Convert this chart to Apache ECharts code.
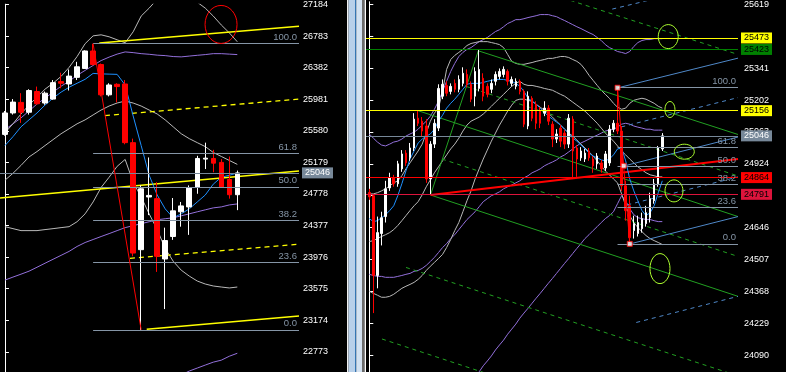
<!DOCTYPE html>
<html><head><meta charset="utf-8">
<script src="https://cdn.jsdelivr.net/npm/echarts@6/dist/echarts.min.js"></script>
<style>html,body{margin:0;padding:0;background:#000;}#c{width:786px;height:372px;}</style>
</head><body><div id="c"></div>
<script>
// ---------------- DATA ----------------
// Left panel (30 bars): [open, close, low, high]
const leftCandles = [
[25535,25807,25518,25832],[25807,25945,25786,25983],[25941,25816,25681,26058],[25816,26092,25786,26108],
[26079,25924,25911,26142],[25933,26058,25911,26079],[25983,26192,25974,26225],[26205,26184,26121,26318],
[26175,26275,26092,26359],[26259,26393,26225,26456],[26372,26594,26372,26602],[26594,26422,26410,26686],
[26422,26037,26017,26435],[26037,26162,26017,26184],[26171,26142,25941,26184],[26175,25430,25409,26225],
[25430,24028,23987,25481],[24071,24844,23054,24887],[24740,24760,24510,25242],[24719,23987,23789,24928],
[23953,24187,23317,24351],[24238,24564,24196,24727],[24552,24627,24363,24677],[24614,24853,24259,24887],
[24865,25229,24781,25263],[25221,25233,25095,25430],[25229,25170,25054,25339],[25179,24865,24865,25221],
[24962,24769,24719,25254],[24769,25046,24573,25075]
];
const leftMA = [25393,25506,25631,25719,25807,25907,25995,26071,26133,26184,26234,26309,26303,26300,26297,26162,25769,25393,25016,24765,24589,24476,24526,24589,24677,24765,24903,24991,25016,25045];
const leftBBUpper = [25556,25669,25794,25907,26008,26109,26184,26271,26385,26523,26686,26786,26799,26774,26736,26698,26837,27037,27138,27251,27376,27439,27376,27288,27213,27138,27037,26924,26824,26711];
const leftBBMid = [24953,25041,25141,25248,25317,25393,25468,25543,25606,25669,25719,25782,25844,25895,25933,25958,25933,25895,25844,25794,25719,25631,25543,25481,25430,25380,25305,25255,25204,25154];
const leftBBLower = [24363,24338,24313,24313,24313,24326,24338,24351,24363,24426,24526,24677,24861,24991,25129,25217,24928,24740,24526,24326,24087,23924,23811,23736,23673,23635,23610,23597,23585,23597];
const leftBB2Upper = [25594,25669,25744,25832,25920,25995,26071,26146,26209,26284,26347,26410,26472,26516,26554,26582,26573,26560,26552,26541,26535,26523,26519,26529,26539,26548,26560,26560,26554,26548];
const leftBB2Mid = [23685,23723,23760,23798,23848,23899,23949,23999,24049,24112,24162,24200,24238,24275,24313,24351,24376,24401,24426,24451,24464,24476,24501,24526,24552,24577,24602,24614,24639,24652];
const leftBB2Lower = [21777,21777,21777,21764,21777,21802,21827,21852,21890,21940,21978,21990,22003,22041,22078,22116,22179,22241,22304,22367,22392,22430,22480,22530,22568,22606,22643,22668,22718,22756];
const leftTicks = [22773,23174,23575,23976,24377,24778,25179,25580,25981,26382,26783,27184];
const fibNames = ['0.0','23.6','38.2','50.0','61.8','100.0'];
const leftFibLevels = [23054,23911,24441,24870,25299,26686];
const leftFibAnchors = [[11,26686],[17,23054]];
const leftPrice = 25046;
const leftYellowSolid = [[[11.77,26695],[36.7,26908]],[[-0.62,24727],[36.7,25070]],[[17.69,23061],[36.7,23229]]];
const leftYellowDashed = [[[12.48,25773],[36.7,25983]],[[15.6,23961],[36.7,24141]]];
const leftEllipseCenters = [[26.97,26931]];

// Right panel (73 bars): [open, close, low, high]
const rightCandles = [
[24799,24780,24767,24815],[24785,24437,24273,24793],[24437,24624,24381,24694],[24620,24689,24568,24715],
[24694,24815,24668,24850],[24819,24863,24806,24885],[24863,24837,24824,24876],[24837,24924,24824,24937],
[24902,24967,24889,24984],[24971,24928,24915,24984],[24950,24993,24937,25015],[24993,25119,24980,25145],
[25123,25101,25089,25156],[25110,25067,25045,25128],[25089,24858,24841,25119],[24858,25010,24791,25023],
[25010,25101,24993,25119],[25080,25253,25067,25271],[25219,25271,25206,25292],[25266,25232,25219,25284],
[25240,25262,25227,25275],[25275,25249,25236,25292],[25249,25292,25236,25310],[25275,25319,25262,25345],
[25314,25271,25258,25336],[25271,25206,25193,25284],[25219,25327,25175,25345],[25253,25336,25240,25423],
[25297,25219,25197,25319],[25262,25227,25214,25275],[25249,25275,25232,25292],[25284,25314,25266,25327],
[25305,25327,25292,25340],[25314,25336,25301,25349],[25327,25284,25266,25336],[25275,25292,25262,25305],
[25262,25284,25249,25297],[25284,25240,25227,25292],[25240,25097,25084,25249],[25089,25219,25075,25240],
[25210,25123,25110,25219],[25184,25101,25075,25197],[25154,25101,25080,25171],[25145,25167,25132,25197],
[25167,25110,25093,25180],[25097,25032,24997,25110],[25032,25054,25015,25075],[25080,25023,24997,25093],
[25058,25010,24989,25071],[25010,25123,24993,25141],[25119,24980,24858,25132],[24993,24945,24867,25006],
[24950,24980,24937,24997],[24945,24971,24932,24989],[24980,24950,24937,24993],[24945,24915,24885,24958],
[24924,24958,24902,24971],[24928,24902,24885,24941],[24906,24967,24893,24980],[24928,25075,24915,25093],
[25075,25101,25062,25115],[25101,25067,25054,25256],[25067,24828,24806,25089],[24828,24720,24676,24850],
[24741,24602,24575,24785],[24633,24663,24598,24698],[24620,24668,24607,24698],[24641,24685,24624,24711],
[24663,24711,24650,24741],[24689,24772,24668,24798],[24763,24837,24750,24858],[24837,24993,24824,25002],
[24989,25046,24980,25058]
];
const rightMA = [24685,24672,24676,24689,24702,24720,24741,24785,24837,24893,24945,24980,25015,25032,25045,25054,25075,25110,25136,25167,25188,25206,25227,25249,25271,25275,25275,25275,25279,25284,25288,25292,25292,25292,25288,25284,25275,25262,25240,25210,25197,25184,25167,25149,25132,25119,25106,25093,25075,25058,25036,25023,25006,24989,24971,24958,24950,24941,24937,24945,24963,24989,24993,24937,24858,24806,24763,24720,24698,24711,24741,24798,24850];
const rightBBUpper = [24793,24793,24798,24806,24815,24828,24841,24850,24872,24902,24928,24954,24980,25010,25058,25110,25145,25167,25240,25336,25379,25397,25410,25423,25440,25449,25453,25457,25457,25457,25453,25449,25444,25431,25401,25371,25362,25358,25358,25362,25366,25371,25375,25379,25384,25384,25388,25392,25392,25388,25379,25371,25358,25336,25310,25288,25266,25245,25227,25210,25188,25171,25162,25167,25188,25201,25206,25210,25206,25197,25188,25175,25167];
const rightBBMid = [24585,24589,24598,24607,24615,24624,24637,24655,24676,24698,24720,24741,24759,24789,24824,24854,24885,24911,24937,24963,24989,25010,25036,25067,25093,25110,25119,25128,25141,25158,25175,25193,25210,25227,25245,25262,25275,25284,25271,25266,25266,25262,25258,25253,25249,25245,25236,25227,25219,25206,25193,25180,25167,25154,25136,25119,25101,25080,25058,25041,25023,25002,24980,24963,24945,24928,24911,24898,24885,24876,24872,24867,24867];
const rightBBLower = [24368,24359,24351,24342,24342,24346,24355,24368,24381,24390,24398,24407,24420,24437,24459,24477,24494,24511,24529,24559,24594,24633,24668,24715,24763,24806,24858,24902,24945,24984,25023,25058,25093,25123,25154,25180,25201,25206,25206,25201,25197,25184,25171,25158,25145,25128,25110,25093,25075,25058,25045,25028,25010,24993,24976,24958,24937,24915,24893,24876,24858,24841,24793,24741,24698,24668,24646,24628,24611,24598,24589,24581,24572];
const rightBB2Upper = [25054,25036,25019,25006,25002,25010,25019,25023,25032,25045,25054,25062,25075,25093,25110,25132,25162,25197,25240,25284,25327,25362,25392,25410,25423,25431,25444,25457,25466,25475,25488,25501,25509,25522,25536,25544,25553,25553,25557,25562,25566,25570,25575,25575,25575,25570,25566,25557,25549,25540,25531,25522,25514,25505,25496,25488,25475,25462,25444,25431,25423,25414,25410,25405,25414,25436,25453,25462,25466,25466,25470,25470,25470];
const rightBB2Mid = [24442,24437,24433,24433,24429,24429,24429,24433,24437,24442,24446,24455,24459,24468,24481,24498,24516,24537,24559,24576,24598,24615,24637,24659,24681,24698,24715,24737,24759,24772,24785,24793,24802,24815,24824,24832,24841,24850,24863,24872,24885,24893,24902,24915,24924,24932,24941,24954,24963,24976,24989,25002,25015,25023,25032,25041,25049,25058,25067,25071,25075,25084,25097,25101,25097,25089,25084,25080,25075,25075,25071,25071,25071];
const rightBB2Lower = [23830,23839,23847,23860,23856,23847,23839,23843,23843,23839,23839,23847,23843,23843,23852,23865,23869,23878,23878,23869,23869,23869,23882,23908,23938,23964,23990,24017,24043,24064,24086,24112,24134,24155,24181,24203,24225,24251,24273,24294,24316,24338,24359,24381,24403,24424,24446,24468,24490,24511,24533,24555,24576,24598,24615,24633,24650,24668,24685,24698,24715,24750,24785,24763,24728,24702,24689,24685,24681,24681,24676,24672,24672];
const rightTicks = [24090,24229,24368,24507,24646,24785,24924,25063,25202,25341,25480,25619];
const rightFibLevels = [24575,24736,24835,24915,24996,25256];
const rightFibAnchors = [[61,25256],[64,24575]];
const rightFibHandles = [[61,25256],[62.5,24915.5],[64,24575]];
const rightHLevels = [25473,25423,25156,25046,24864,24791];
const rightGreenSolid = [[[26.78,25417],[90.6,25052]],[[11.97,25156],[90.6,24694]],[[15.04,24788],[90.6,24346]],[[15.04,24788],[26.78,25417]]];
const rightGreenDashed = [[[32.6,25733],[90.6,25401]],[[23.76,25262],[90.6,24871]],[[17.86,24945],[90.6,24520]],[[9.02,24472],[90.6,23999]],[[3.12,24160],[90.6,23648]]];
const rightBlueSolid = [[[61.18,25256],[90.6,25385]],[[62.65,24915],[90.6,25041]],[[64.13,24575],[90.6,24694]]];
const rightBlueDashed = [[[61.92,25085],[90.6,25213]],[[63.39,24745],[90.6,24867]],[[65.6,24232],[90.6,24346]],[[59.7,25599],[90.6,25731]]];
const rightRedTrend = [[15.04,24788],[90.6,24945]];
const rightEllipseCenters = [[73.46,25479],[73.88,25161],[77.4,24977],[74.87,24806],[71.43,24467]];

// ---------------- STYLE / LAYOUT ----------------
const FONT = "'Liberation Sans',sans-serif";
const FS = 9;
const L_X = {min:-0.62, max:36.7};
const R_X = {min:-0.81, max:90.6};
const L_Y = {min:22518, max:27188};
const R_Y = {min:24016, max:25631};
const leftEllipseRadii = [[16,19]];
const rightEllipseRadii = [[10,12],[5,8],[10,7.5],[9,11],[10,15]];
const rightHStyles = [
  {line:'#ffff00', bg:'#ffff00', fg:'#000'},
  {line:'#008000', bg:'#008000', fg:'#000'},
  {line:'#ffff00', bg:'#ffff00', fg:'#000'},
  {line:'#778899', bg:'#778899', fg:'#fff'},
  {line:'#ff0000', bg:'#ff0000', fg:'#000'},
  {line:'#dc143c', bg:'#dc143c', fg:'#000'}
];
const COL = {ma:'#1e90ff', bb:'#b9b9b9', bb2:'#9370db', fib:'#8595a6', yellow:'#ffff00', pf:'#22a022', pfBlue:'#4f88c8', red:'#ff0000'};

function withIdx(arr){ return arr.map((v,i)=>[i,v]); }
function candleData(arr){ return arr.map((c,i)=>[i,c[0],c[1],c[2],c[3]]); }
function ind(g, arr, color, z){
  return {type:'line', xAxisIndex:g, yAxisIndex:g, data:withIdx(arr), symbol:'none', showSymbol:false,
    lineStyle:{color:color, width:1}, silent:true, z:z||2, animation:false};
}
function seg(g, pts, color, type, width, z){
  return {type:'line', xAxisIndex:g, yAxisIndex:g, data:pts, symbol:'none', showSymbol:false,
    lineStyle:{color:color, width:width||1, type:type||'solid'}, silent:true, z:z||3, animation:false};
}
function fibMarks(levels, startX, endX){
  return levels.map((v,k)=>[
    {coord:[startX, v], lineStyle:{color:COL.fib, width:1, type:'solid'},
     label:{show:true, position:'insideEndTop', formatter:fibNames[k], color:COL.fib, fontSize:FS+0.5, fontFamily:FONT, distance:[2,1]}},
    {coord:[endX, v]}
  ]);
}
function priceMark(v, st){
  return {yAxis:v, lineStyle:{color:st.line, width:1, type:'solid'},
    label:{show:true, position:'end', formatter:String(v), color:st.fg, backgroundColor:st.bg,
      padding:[1,3,0,3], fontSize:FS, lineHeight:10, fontFamily:FONT, distance:3}};
}
function ellipses(g, centers, radii, color){
  return {type:'custom', xAxisIndex:g, yAxisIndex:g, silent:true, z:6, animation:false,
    data: centers.map((c,i)=>[c[0],c[1],i]),
    renderItem: function(params, api){
      const p = api.coord([api.value(0), api.value(1)]);
      const r = radii[api.value(2)];
      return {type:'ellipse', shape:{cx:p[0], cy:p[1], rx:r[0], ry:r[1]},
        style:{fill:null, stroke:color, lineWidth:1}};
    }};
}
function candles(g, arr, w){
  return {type:'candlestick', xAxisIndex:g, yAxisIndex:g, data:candleData(arr),
    encode:{x:0, y:[1,2,3,4]}, barWidth:w, silent:true, z:4, animation:false,
    itemStyle:{color:'#ffffff', color0:'#ff0000', borderColor:'#ffffff', borderColor0:'#ff0000', borderWidth:1}};
}
function yAxis(g, lim, ticks, margin){
  return {type:'value', gridIndex:g, position:'right', min:lim.min, max:lim.max, scale:true,
    splitLine:{show:false},
    axisLine:{show:true, lineStyle:{color:'#fff', width:1}},
    axisTick:{show:true, customValues:ticks, length:4, lineStyle:{color:'#fff'}},
    axisLabel:{show:true, customValues:ticks, color:'#fff', fontSize:FS, fontFamily:FONT, margin:margin,
      formatter:function(v){ return String(Math.round(v)); }, hideOverlap:false}};
}

const series = [];
// left panel
series.push(ind(0, leftBB2Upper, COL.bb2), ind(0, leftBB2Mid, COL.bb2), ind(0, leftBB2Lower, COL.bb2));
series.push(ind(0, leftBBUpper, COL.bb), ind(0, leftBBMid, COL.bb), ind(0, leftBBLower, COL.bb));
leftYellowSolid.forEach(s=>series.push(seg(0, s, COL.yellow, 'solid', 1.3)));
leftYellowDashed.forEach(s=>series.push(seg(0, s, COL.yellow, [5,4], 1.3)));
series.push(seg(0, leftFibAnchors, COL.red, 'solid', 1, 5));
const lma = ind(0, leftMA, COL.ma, 3);
lma.markLine = {silent:true, symbol:['none','none'], animation:false,
  data: fibMarks(leftFibLevels, leftFibAnchors[0][0], L_X.max).concat([priceMark(leftPrice, {line:'#778899', bg:'#778899', fg:'#fff'})])};
series.push(lma);
series.push(candles(0, leftCandles, 5));
series.push(ellipses(0, leftEllipseCenters, leftEllipseRadii, '#ff0000'));

// right panel
series.push(ind(1, rightBB2Upper, COL.bb2), ind(1, rightBB2Mid, COL.bb2), ind(1, rightBB2Lower, COL.bb2));
series.push(ind(1, rightBBUpper, COL.bb), ind(1, rightBBMid, COL.bb), ind(1, rightBBLower, COL.bb));
rightGreenSolid.forEach(s=>series.push(seg(1, s, COL.pf, 'solid', 1)));
rightGreenDashed.forEach(s=>series.push(seg(1, s, COL.pf, [4,4], 1)));
rightBlueSolid.forEach(s=>series.push(seg(1, s, COL.pfBlue, 'solid', 1)));
rightBlueDashed.forEach(s=>series.push(seg(1, s, COL.pfBlue, [4,4], 1)));
series.push(seg(1, rightRedTrend, COL.red, 'solid', 2));
const rma = ind(1, rightMA, COL.ma, 3);
rma.markLine = {silent:true, symbol:['none','none'], animation:false,
  data: fibMarks(rightFibLevels, rightFibAnchors[0][0], R_X.max).concat(rightHLevels.map((v,k)=>priceMark(v, rightHStyles[k])))};
series.push(rma);
series.push(candles(1, rightCandles, 2));
series.push(seg(1, rightFibAnchors, COL.red, 'solid', 1, 5));
series.push({type:'scatter', xAxisIndex:1, yAxisIndex:1, data:rightFibHandles, symbol:'rect', symbolSize:5,
  itemStyle:{color:'#ffffff', borderColor:'#ff0000', borderWidth:1}, silent:true, z:7, animation:false});
series.push(ellipses(1, rightEllipseCenters, rightEllipseRadii, '#adff2f'));

const option = {
  backgroundColor:'#000',
  animation:false,
  textStyle:{fontFamily:FONT},
  grid:[
    {left:0, top:0, width:299, height:372, containLabel:false},
    {left:366, top:0, width:372, height:372, containLabel:false}
  ],
  xAxis:[
    {type:'value', gridIndex:0, min:L_X.min, max:L_X.max, show:false, splitLine:{show:false}},
    {type:'value', gridIndex:1, min:R_X.min, max:R_X.max, show:false, splitLine:{show:false}}
  ],
  yAxis:[ yAxis(0, L_Y, leftTicks, 4), yAxis(1, R_Y, rightTicks, 6) ],
  graphic:[
    {type:'rect', shape:{x:347, y:0, width:1.5, height:372}, style:{fill:'#f0f0f0'}, silent:true},
    {type:'rect', shape:{x:348.5, y:0, width:6.7, height:372}, style:{fill:'#b8d0ea'}, silent:true},
    {type:'rect', shape:{x:355.2, y:0, width:1, height:372}, style:{fill:'#3a8ad6'}, silent:true},
    {type:'rect', shape:{x:356.2, y:0, width:5.8, height:372}, style:{fill:'#d3e2f2'}, silent:true},
    {type:'rect', shape:{x:362, y:0, width:2.6, height:372}, style:{fill:'#6b6b6b'}, silent:true},
    {type:'rect', shape:{x:364.6, y:0, width:1.4, height:372}, style:{fill:'#ffffff'}, silent:true}
  ],
  series: series
};
const chart = echarts.init(document.getElementById('c'));
chart.setOption(option);
</script></body></html>
